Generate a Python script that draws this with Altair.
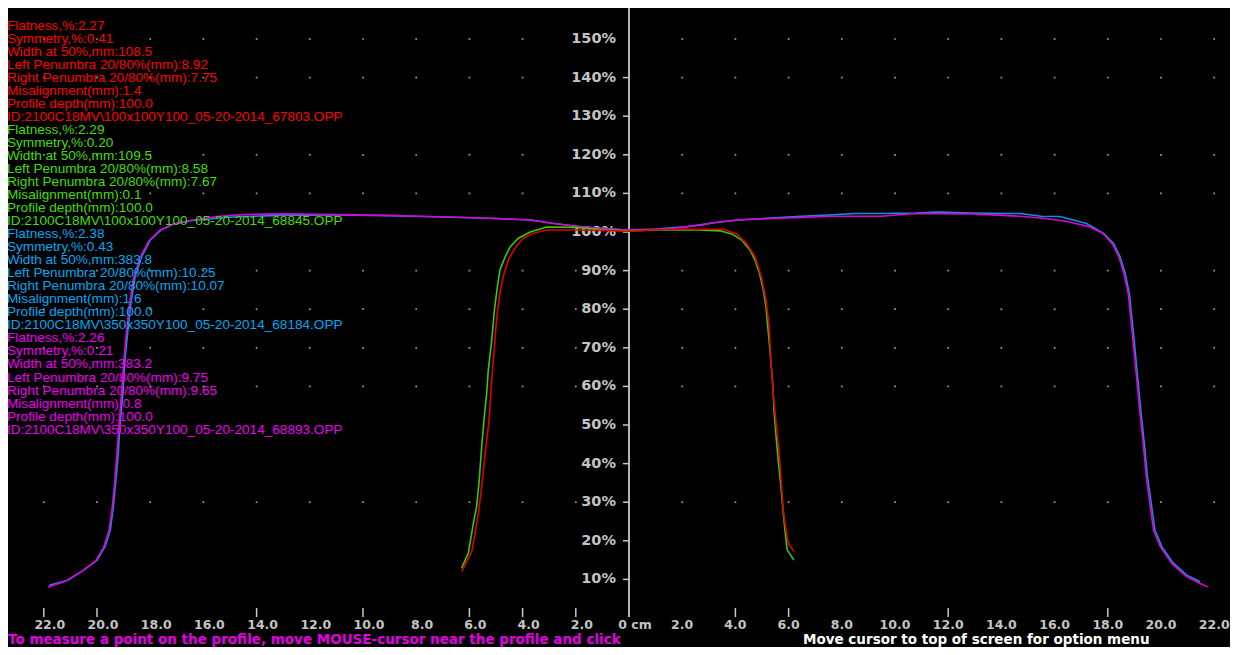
import altair as alt
import pandas as pd

# ---------------- profile data: off-axis distance (cm) / relative dose (%) ----------------
red_x = [-6.29, -5.91, -5.66, -5.54, -5.39, -5.26, -5.16, -5.06, -4.97, -4.85, -4.73, -4.54, -4.29,
         -3.97, -3.6, -3.09, -2.0, -1.0, 0.0, 1.0, 2.0, 3.0, 3.55, 4.05, 4.42, 4.74, 4.99, 5.15,
         5.27, 5.33, 5.42, 5.53, 5.64, 5.71, 5.8, 5.9, 5.99, 6.2]
red_y = [12.0, 17.2, 27.2, 34.0, 43.5, 51.3, 61.7, 70.3, 78.0, 84.2, 88.4, 92.7, 95.8,
         98.4, 99.7, 100.5, 100.5, 100.4, 100.2, 100.6, 100.7, 100.7, 100.7, 99.5, 97.0, 93.6, 88.0, 82.4,
         75.5, 66.8, 58.2, 50.4, 43.5, 36.6, 28.0, 22.8, 19.4, 17.2]

green_x = [-6.29, -6.04, -5.85, -5.73, -5.63, -5.54, -5.44, -5.35, -5.29, -5.16, -5.06, -4.95, -4.85,
           -4.66, -4.47, -4.16, -3.72, -3.09, -2.0, -1.0, 0.0, 1.0, 2.0, 2.67, 3.42, 3.86, 4.24, 4.55,
           4.74, 4.92, 5.05, 5.15, 5.24, 5.33, 5.4, 5.45, 5.53, 5.61, 5.71, 5.8, 5.89, 5.95, 6.2]
green_y = [13.0, 16.8, 24.6, 28.8, 35.8, 44.3, 52.1, 58.3, 64.2, 72.0, 79.8, 85.8, 90.2,
           93.5, 96.1, 98.4, 100.0, 101.3, 101.2, 100.6, 100.3, 100.5, 100.5, 100.5, 100.3, 99.5, 97.9, 95.3,
           92.7, 88.9, 85.0, 80.6, 73.8, 66.8, 60.9, 53.9, 47.0, 40.9, 34.0, 27.1, 21.1, 17.6, 15.0]

cyan_x = [-21.8, -21.1, -20.5, -20.0, -19.7, -19.5, -19.4, -19.3, -19.2, -19.14, -19.03, -18.95, -18.85,
          -18.73, -18.57, -18.32, -18.0, -17.6, -17.1, -16.5, -15.6, -14.9, -13.0, -11.0, -9.0, -7.0,
          -5.0, -3.7, -2.8, -2.0, -1.2, -0.1, 0.9, 2.2, 3.2, 4.1, 5.3, 6.5, 7.5, 8.5, 9.5, 10.8, 11.6,
          12.9, 14.0, 14.7, 15.5, 16.2, 17.2, 17.83, 18.21, 18.46, 18.65, 18.81, 18.9, 19.0, 19.12,
          19.24, 19.37, 19.49, 19.65, 19.77, 20.03, 20.46, 20.97, 21.47]
cyan_y = [8.5, 9.8, 12.4, 15.0, 18.5, 22.8, 28.0, 34.9, 42.7, 49.6, 58.2, 66.8, 73.8,
          81.5, 88.4, 93.6, 97.9, 100.5, 102.1, 102.9, 103.5, 103.9, 104.3, 104.4, 104.2, 103.9,
          103.5, 103.1, 102.2, 101.5, 101.0, 100.5, 100.7, 101.4, 102.4, 103.1, 103.6, 104.1, 104.4, 104.8, 104.8, 104.9, 105.2,
          104.9, 104.8, 104.8, 104.1, 104.0, 102.2, 99.7, 97.1, 93.6, 89.3, 84.1, 78.0, 71.2, 62.5,
          53.9, 45.3, 36.6, 28.8, 22.8, 18.5, 14.2, 11.1, 9.4]

magenta_x = [-21.85, -21.2, -20.55, -20.05, -19.75, -19.55, -19.44, -19.34, -19.25, -19.18, -19.08, -18.99,
             -18.9, -18.78, -18.62, -18.38, -18.05, -17.65, -17.15, -16.5, -15.5, -14.5, -13.0, -11.0, -9.0,
             -7.9, -6.7, -5.0, -3.7, -2.85, -1.97, -1.21, -0.09, 0.91, 1.47, 2.17, 2.78, 3.17, 4.05, 5.3,
             6.55, 7.52, 9.47, 10.77, 12.9, 14.69, 15.67, 16.47, 17.29, 17.8, 18.17, 18.42, 18.61, 18.77,
             18.86, 18.96, 19.08, 19.2, 19.33, 19.45, 19.6, 19.72, 19.98, 20.42, 20.95, 21.45, 21.78]
magenta_y = [8.0, 9.5, 12.2, 14.8, 18.3, 22.6, 27.8, 34.7, 42.5, 49.4, 58.0, 66.6,
             73.6, 81.3, 88.2, 93.4, 97.7, 100.4, 102.0, 103.0, 104.0, 104.5, 104.7, 104.5, 104.3,
             104.1, 103.9, 103.5, 103.1, 102.2, 101.5, 101.0, 100.5, 100.7, 100.7, 101.4, 101.8, 102.4, 103.1, 103.5,
             103.8, 104.1, 104.1, 104.8, 104.7, 104.1, 103.5, 102.7, 101.4, 99.7, 97.0, 93.5, 89.2, 84.0,
             77.9, 71.1, 62.4, 53.8, 45.2, 36.5, 28.7, 22.7, 18.4, 14.0, 10.8, 9.0, 8.0]

series_names = ["67803", "68845", "68184", "68893"]
series_line_colors = ["#e00000", "#33cc00", "#0099dd", "#dd00dd"]
draw_order = ["68184", "68893", "68845", "67803"]

# ---------------- text annotations ----------------
red_text = ["Flatness,%:2.27", "Symmetry,%:0.41", "Width at 50%,mm:108.5",
            "Left Penumbra 20/80%(mm):8.92", "Right Penumbra 20/80%(mm):7.75",
            "Misalignment(mm):1.4", "Profile depth(mm):100.0",
            "ID:2100C18MV\\100x100Y100_05-20-2014_67803.OPP"]
green_text = ["Flatness,%:2.29", "Symmetry,%:0.20", "Width at 50%,mm:109.5",
              "Left Penumbra 20/80%(mm):8.58", "Right Penumbra 20/80%(mm):7.67",
              "Misalignment(mm):0.1", "Profile depth(mm):100.0",
              "ID:2100C18MV\\100x100Y100_05-20-2014_68845.OPP"]
cyan_text = ["Flatness,%:2.38", "Symmetry,%:0.43", "Width at 50%,mm:383.8",
             "Left Penumbra 20/80%(mm):10.25", "Right Penumbra 20/80%(mm):10.07",
             "Misalignment(mm):1.6", "Profile depth(mm):100.0",
             "ID:2100C18MV\\350x350Y100_05-20-2014_68184.OPP"]
magenta_text = ["Flatness,%:2.26", "Symmetry,%:0.21", "Width at 50%,mm:383.2",
                "Left Penumbra 20/80%(mm):9.75", "Right Penumbra 20/80%(mm):9.65",
                "Misalignment(mm):0.8", "Profile depth(mm):100.0",
                "ID:2100C18MV\\350x350Y100_05-20-2014_68893.OPP"]
text_colors = ["#ff0000", "#44dd00", "#00a8f0", "#ee00ee"]

bottom_left_text = "To measure a point on the profile, move MOUSE-cursor near the profile and click"
bottom_right_text = "Move cursor to top of screen for option menu"

# ---------------- axes ----------------
x_label_values_left = list(range(-22, 1, 2))
x_label_values_right = list(range(2, 23, 2))
y_label_values = list(range(10, 151, 10))
x_tick_marks = [-22, -20, -14, -10, -6, -4, -2, 4, 6, 12, 18]
y_tick_marks = [10, 20, 30, 40, 50, 60, 70, 80, 90, 100, 110, 120, 130, 140]
dot_rows = [30, 60, 70, 80, 90, 110, 120, 140, 150]
dot_cols = [v for v in range(-22, 23, 2) if v != 0]

# ---------------- build tables ----------------
rows = []
for name, col, xs_, ys_ in zip(series_names, series_line_colors,
                               [red_x, green_x, cyan_x, magenta_x],
                               [red_y, green_y, cyan_y, magenta_y]):
    for i, (a, b) in enumerate(zip(xs_, ys_)):
        rows.append({"series": name, "col": col, "x": a, "y": b, "i": i})
lines_df = pd.DataFrame(rows)

trows = []
k = 0
for block, col in zip([red_text, green_text, cyan_text, magenta_text], text_colors):
    for line in block:
        trows.append({"txt": line, "col": col, "row": k})
        k += 1
text_df = pd.DataFrame(trows)

dots_df = pd.DataFrame([{"x": c, "y": r} for r in dot_rows for c in dot_cols])

W, H = 1222, 639
xs = alt.Scale(domain=[-23.346, 22.594], nice=False, zero=False)
ys = alt.Scale(domain=[-7.51, 158.03], nice=False, zero=False)
FONT = "Liberation Sans"
AXFONT = "DejaVu Sans"
LABEL_COLOR = "#c4c4c4"

dots = alt.Chart(dots_df).mark_square(size=3, color="#9a9a9a", opacity=1).encode(
    x=alt.X("x:Q", scale=xs, axis=None),
    y=alt.Y("y:Q", scale=ys, axis=None),
)

axis_line = alt.Chart(pd.DataFrame({"x": [0]})).mark_rule(color="#b4b4b4", strokeWidth=2).encode(
    x=alt.X("x:Q", scale=xs, axis=None), y=alt.value(0), y2=alt.value(609))

xticks = alt.Chart(pd.DataFrame({"x": x_tick_marks})).mark_rule(color="#c8c8c8", strokeWidth=1.5).encode(
    x=alt.X("x:Q", scale=xs, axis=None), y=alt.value(600), y2=alt.value(609))

yticks = alt.Chart(pd.DataFrame({"y": y_tick_marks})).mark_rule(color="#c8c8c8", strokeWidth=1.5).encode(
    y=alt.Y("y:Q", scale=ys, axis=None), x=alt.value(615), x2=alt.value(621))

LAB_EXPR = "datum.v == 0 ? '0 cm' : format(abs(datum.v), '.1f')"
xlabels_left = alt.Chart(pd.DataFrame({"v": x_label_values_left})).transform_calculate(
    lab=LAB_EXPR
).mark_text(align="center", baseline="middle", dx=6, font=AXFONT, fontSize=12.5,
            fontWeight="bold", color=LABEL_COLOR).encode(
    x=alt.X("v:Q", scale=xs, axis=None), y=alt.value(616.5), text="lab:N")

xlabels_right = alt.Chart(pd.DataFrame({"v": x_label_values_right})).transform_calculate(
    lab=LAB_EXPR
).mark_text(align="center", baseline="middle", dx=0, font=AXFONT, fontSize=12.5,
            fontWeight="bold", color=LABEL_COLOR).encode(
    x=alt.X("v:Q", scale=xs, axis=None), y=alt.value(616.5), text="lab:N")

ylabels = alt.Chart(pd.DataFrame({"v": y_label_values})).transform_calculate(
    lab="datum.v + '%'"
).mark_text(align="right", baseline="middle", font=AXFONT, fontSize=14.5,
            fontWeight="bold", color=LABEL_COLOR).encode(
    y=alt.Y("v:Q", scale=ys, axis=None), x=alt.value(608), text="lab:N")

lines = alt.Chart(lines_df).mark_line(strokeWidth=1.6).encode(
    x=alt.X("x:Q", scale=xs, axis=None),
    y=alt.Y("y:Q", scale=ys, axis=None),
    color=alt.Color("col:N", scale=None),
    detail="series:N",
    order="i:Q",
)
line_layers = [lines.transform_filter(alt.datum.series == s) for s in draw_order]

texts = alt.Chart(text_df).transform_calculate(
    py="17.7 + datum.row * 13.03"
).mark_text(align="left", baseline="middle", font=FONT, fontSize=13.6).encode(
    x=alt.value(-1),
    y=alt.Y("py:Q", scale=None, axis=None),
    text="txt:N",
    color=alt.Color("col:N", scale=None),
)

bottom_left = alt.Chart(pd.DataFrame({"t": [bottom_left_text]})).mark_text(
    align="left", baseline="middle", font=AXFONT, fontSize=13.5, fontWeight="bold", color="#e000e0"
).encode(x=alt.value(0), y=alt.value(631.5), text="t:N")

bottom_right = alt.Chart(pd.DataFrame({"t": [bottom_right_text]})).mark_text(
    align="left", baseline="middle", font=AXFONT, fontSize=13.5, fontWeight="bold", color="#ffffff"
).encode(x=alt.value(795), y=alt.value(631.5), text="t:N")

chart = alt.layer(
    dots, axis_line, xticks, yticks, xlabels_left, xlabels_right, ylabels,
    *line_layers, texts, bottom_left, bottom_right
).properties(
    width=W, height=H, autosize=alt.AutoSizeParams(type="none"), padding=0,
    background="#000000",
).configure_view(stroke=None, fill="#000000")

chart.save("out.html", embed_options={"renderer": "svg", "actions": False})
